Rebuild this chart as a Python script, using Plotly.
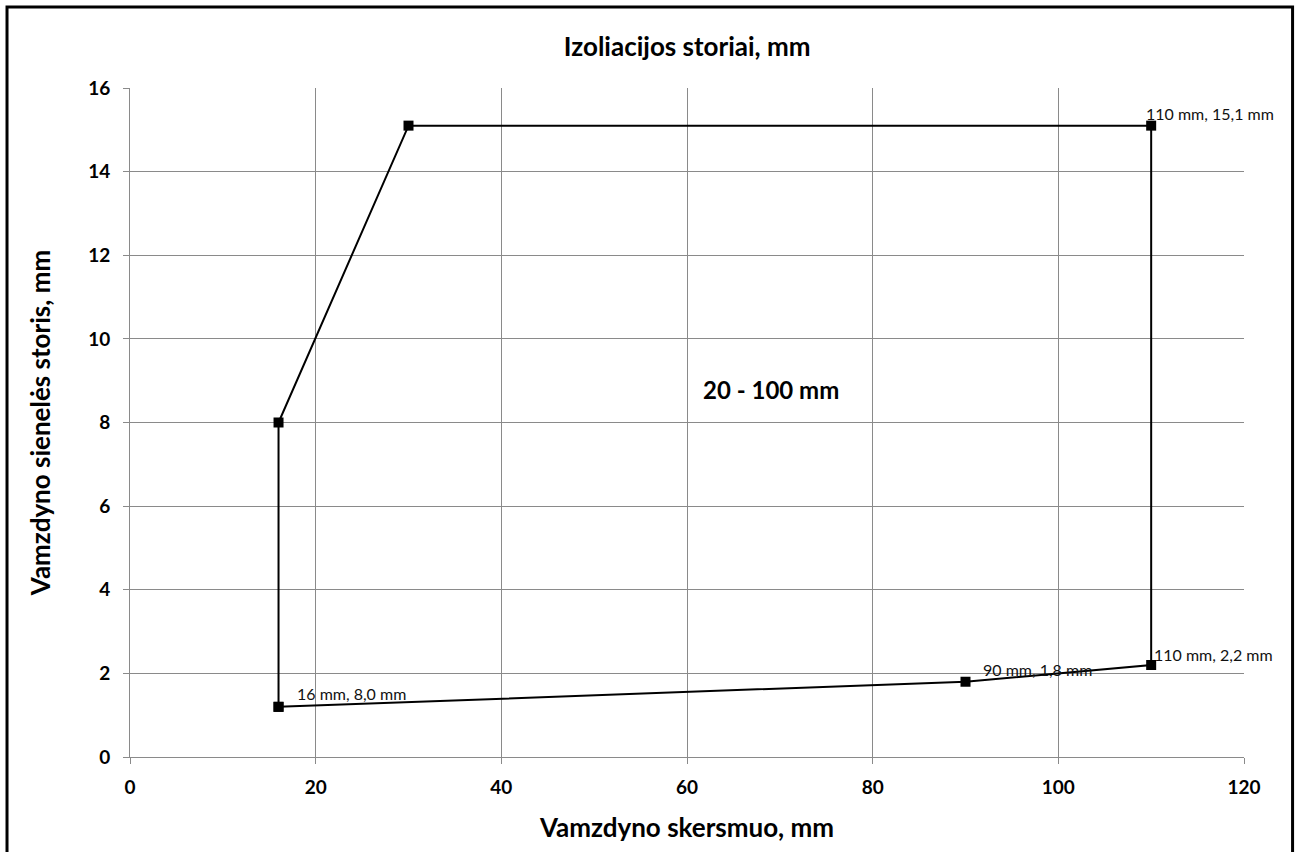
import plotly.graph_objects as go

# Pipe outer diameter (mm) and wall thickness (mm), polygon outline
diameter = [16, 90, 110, 110, 30, 16, 16]
thickness = [1.2, 1.8, 2.2, 15.1, 15.1, 8.0, 1.2]

# data labels as written on the original chart
label_text = ["16 mm, 8,0 mm", "90 mm, 1,8 mm", "110 mm, 2,2 mm", "110 mm, 15,1 mm"]
label_x = [17.8, 91.7, 110.1, 109.2]
label_y = [1.53, 2.10, 2.46, 15.40]

x_ticks = [0, 20, 40, 60, 80, 100, 120]
y_ticks = [0, 2, 4, 6, 8, 10, 12, 14, 16]

FONT = "Lato, 'Open Sans', sans-serif"

fig = go.Figure()
fig.add_trace(go.Scatter(
    x=diameter, y=thickness, mode='lines+markers',
    line=dict(color='black', width=2),
    marker=dict(symbol='square', size=10, color='black'),
    showlegend=False, hoverinfo='x+y'
))

for t, x, y in zip(label_text, label_x, label_y):
    fig.add_annotation(x=x, y=y, text=t, showarrow=False, xanchor='left', yanchor='middle',
                       font=dict(family=FONT, size=16, color='#111111'))

fig.add_annotation(x=69, y=8.8, text="<b>20 - 100 mm</b>", showarrow=False,
                   font=dict(family=FONT, size=24, color='black'))

# outer chart border
fig.add_shape(type='rect', xref='paper', yref='paper', x0=-0.1104, x1=1.0436, y0=-0.2, y1=1.121,
              line=dict(color='black', width=3), layer='above')

axis_common = dict(
    showgrid=True, gridcolor='#8a8a8a', gridwidth=1,
    showline=True, linecolor='#8a8a8a', linewidth=1,
    ticks='outside', ticklen=6, tickcolor='#8a8a8a',
    tickfont=dict(family=FONT, size=19, color='black', weight='bold'),
    zeroline=False, mirror=False,
)

fig.update_layout(
    width=1300, height=852,
    margin=dict(l=130, r=56, t=88, b=95),
    paper_bgcolor='white', plot_bgcolor='white',
    title=dict(text="<b>Izoliacijos storiai, mm</b>", x=0.5286, xanchor='center', y=0.945, yanchor='middle',
               font=dict(family=FONT, size=26, color='black')),
    xaxis=dict(range=[0, 120], tickvals=x_ticks, ticklabelstandoff=7,
               title=dict(text="<b>Vamzdyno skersmuo, mm</b>", standoff=22,
                          font=dict(family=FONT, size=26, color='black')),
               **axis_common),
    yaxis=dict(range=[0, 16], tickvals=y_ticks, ticklabelstandoff=9,
               title=dict(text="<b>Vamzdyno sienelės storis, mm</b>", standoff=30,
                          font=dict(family=FONT, size=26, color='black')),
               **axis_common),
)

# the page body has a default 8px margin; drop it so the figure sits at the window corner
fig.write_html("out.html", config={'displayModeBar': False},
               post_script="document.body.style.margin='0';")
